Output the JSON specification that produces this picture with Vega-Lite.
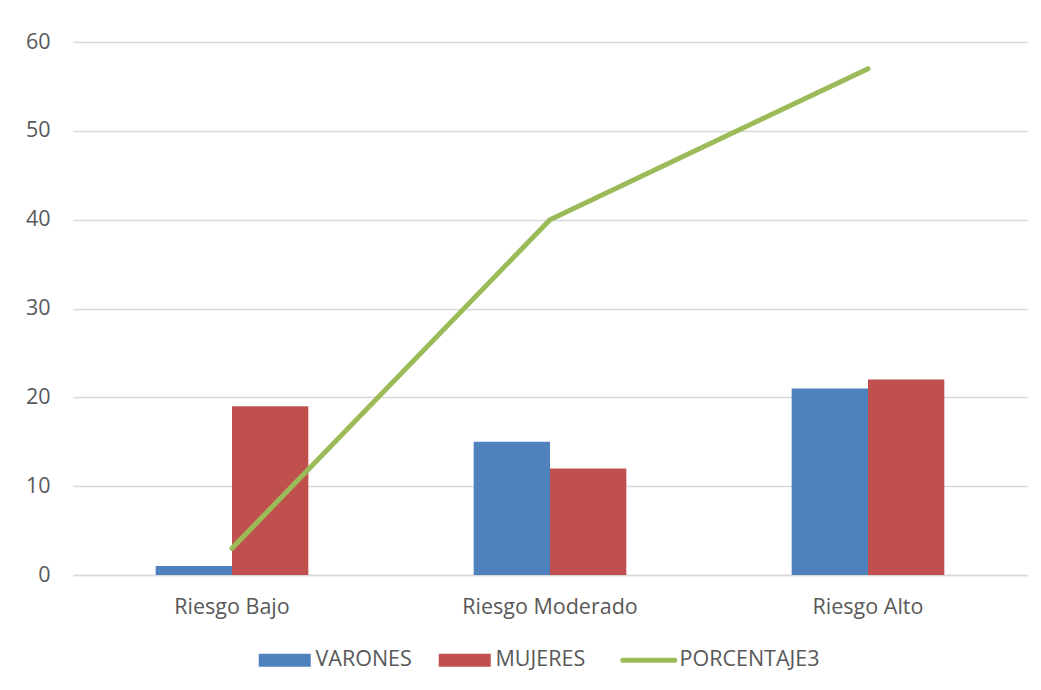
{
  "$schema": "https://vega.github.io/schema/vega-lite/v6.json",
  "width": 954,
  "height": 533,
  "autosize": {"type": "none"},
  "padding": {"left": 73, "top": 42, "right": 14, "bottom": 115},
  "background": "white",
  "datasets": {
    "barras": [
      {"categoria": "Riesgo Bajo", "serie": "VARONES", "valor": 1},
      {"categoria": "Riesgo Bajo", "serie": "MUJERES", "valor": 19},
      {"categoria": "Riesgo Moderado", "serie": "VARONES", "valor": 15},
      {"categoria": "Riesgo Moderado", "serie": "MUJERES", "valor": 12},
      {"categoria": "Riesgo Alto", "serie": "VARONES", "valor": 21},
      {"categoria": "Riesgo Alto", "serie": "MUJERES", "valor": 22}
    ],
    "linea": [
      {"categoria": "Riesgo Bajo", "serie": "PORCENTAJE3", "valor": 3},
      {"categoria": "Riesgo Moderado", "serie": "PORCENTAJE3", "valor": 40},
      {"categoria": "Riesgo Alto", "serie": "PORCENTAJE3", "valor": 57}
    ]
  },
  "encoding": {
    "x": {
      "field": "categoria",
      "type": "nominal",
      "sort": ["Riesgo Bajo", "Riesgo Moderado", "Riesgo Alto"],
      "scale": {"paddingInner": 0.52, "paddingOuter": 0.26},
      "axis": {
        "title": null,
        "labelAngle": 0,
        "labelFont": "Open Sans",
        "labelFontSize": 21.5,
        "labelColor": "#595959",
        "labelPadding": 21,
        "ticks": false,
        "domainColor": "#D9D9D9",
        "domainWidth": 1.5,
        "grid": false
      }
    },
    "y": {
      "field": "valor",
      "type": "quantitative",
      "scale": {"domain": [0, 60], "nice": false},
      "axis": {
        "title": null,
        "values": [0, 10, 20, 30, 40, 50, 60],
        "labelFont": "Open Sans",
        "labelFontSize": 21.5,
        "labelColor": "#595959",
        "labelPadding": 23,
        "ticks": false,
        "domain": false,
        "gridColor": "#D9D9D9",
        "gridWidth": 1.5
      }
    },
    "color": {
      "field": "serie",
      "type": "nominal",
      "scale": {
        "domain": ["VARONES", "MUJERES", "PORCENTAJE3"],
        "range": ["#4F81BD", "#C0504D", "#9BBB59"]
      },
      "legend": {
        "orient": "none",
        "legendX": 201,
        "legendY": 607,
        "direction": "horizontal",
        "title": null,
        "labelFont": "Open Sans",
        "labelFontSize": 21.5,
        "labelColor": "#595959",
        "labelOffset": 20,
        "columnPadding": 26,
        "symbolSize": 2704,
        "encode": {
          "symbols": {
            "update": {
              "shape": {"signal": "datum.value === 'PORCENTAJE3' ? 'stroke' : 'M-1,-0.25H1V0.25H-1Z'"},
              "fill": {"signal": "datum.value === 'PORCENTAJE3' ? 'transparent' : scale('color', datum.value)"},
              "stroke": {"signal": "datum.value === 'PORCENTAJE3' ? scale('color', datum.value) : 'transparent'"},
              "strokeWidth": {"signal": "datum.value === 'PORCENTAJE3' ? 5 : 0"},
              "strokeCap": {"value": "round"},
              "opacity": {"value": 1}
            }
          }
        }
      }
    }
  },
  "layer": [
    {
      "data": {"name": "barras"},
      "mark": {"type": "bar"},
      "encoding": {
        "xOffset": {
          "field": "serie",
          "type": "nominal",
          "sort": ["VARONES", "MUJERES"],
          "scale": {"paddingInner": 0, "paddingOuter": 0}
        }
      }
    },
    {
      "data": {"name": "linea"},
      "mark": {"type": "line", "strokeWidth": 5, "strokeCap": "round", "strokeJoin": "round"},
      "encoding": {}
    }
  ],
  "config": {
    "view": {"stroke": null}
  }
}
